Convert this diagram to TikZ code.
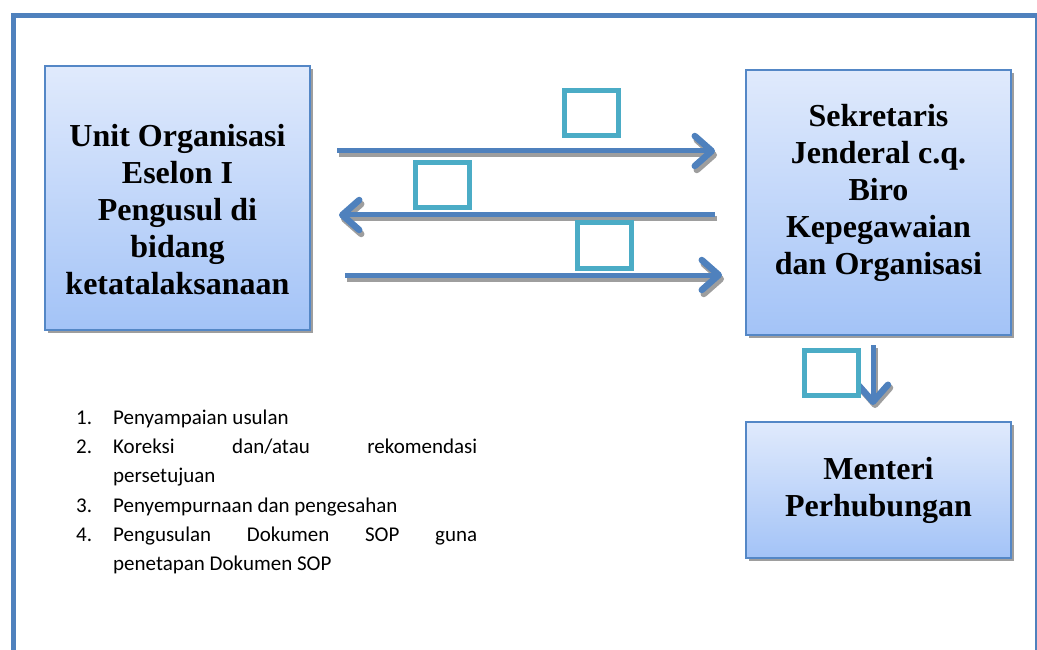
\documentclass[tikz,border=0pt]{standalone}
\usepackage{fontspec}
\setmainfont{Carlito}
\newfontfamily\boxfont{Liberation Serif}[BoldFont={Liberation Serif Bold}]
\usetikzlibrary{arrows.meta,shadows}
\definecolor{frameblue}{RGB}{79,129,189}
\definecolor{arrowblue}{RGB}{79,129,189}
\definecolor{sqteal}{RGB}{75,172,198}
\definecolor{boxtop}{RGB}{224,234,252}
\definecolor{boxbot}{RGB}{163,195,247}
\definecolor{boxline}{RGB}{84,135,198}
\definecolor{shadowgray}{RGB}{158,158,158}
\tikzset{
  bigbox/.style={draw=boxline, line width=2pt, top color=boxtop, bottom color=boxbot,
    inner sep=0pt,
    drop shadow={shadow xshift=3pt, shadow yshift=-3pt, fill=shadowgray, opacity=1}},
  boxtext/.style={inner sep=0pt, align=center, font=\boxfont\bfseries\fontsize{32}{37}\selectfont},
  sqbox/.style={draw=sqteal, line width=5pt, fill=white, minimum width=54pt, minimum height=45pt, inner sep=0pt},
  flowtip/.style={-{Straight Barb[round,length=17pt,width=30pt,line width=6.5pt]}},
  flowarrow/.style={draw=arrowblue, line width=5pt, flowtip},
  flowshadow/.style={draw=shadowgray, line width=5pt, flowtip},
  listtext/.style={inner sep=0pt, anchor=base west, font=\fontsize{21}{25}\selectfont},
  framepath/.style={draw=frameblue, line width=5pt}
}
\begin{document}
\begin{tikzpicture}[x=1pt,y=-1pt]
\useasboundingbox[fill=white] (0,0) rectangle (1037,650);
% outer frame
\coordinate (fbl) at (13,670);
\coordinate (ftl) at (13,15.5);
\coordinate (ftr) at (1037.5,15.5);
\coordinate (fbr) at (1037.5,670);
\draw[framepath] (fbl) -- (ftl) -- (ftr) -- (fbr);

% boxes
\node[bigbox, minimum width=265pt, minimum height=264pt] (unit) at (177.5,198) {};
\node[boxtext] (unitt) at (177.5,210) {Unit Organisasi\\Eselon I\\Pengusul di\\bidang\\ketatalaksanaan};
\node[bigbox, minimum width=265pt, minimum height=265pt] (sek) at (878.5,202.5) {};
\node[boxtext] (sekt) at (878.5,193) {Sekretaris\\Jenderal c.q.\\Biro\\Kepegawaian\\dan Organisasi};
\node[bigbox, minimum width=265pt, minimum height=136pt] (men) at (878.5,490) {};
\node[boxtext] (ment) at (878.5,490) {Menteri\\Perhubungan};

% arrow end points
\coordinate (a1s) at (337,151); \coordinate (a1e) at (715,151);
\coordinate (a2s) at (715,215); \coordinate (a2e) at (339,215);
\coordinate (a3s) at (345,275); \coordinate (a3e) at (722,275);
\coordinate (a4s) at (873,345); \coordinate (a4e) at (873,405);

% shadows of arrows
\begin{scope}[transform canvas={xshift=2pt,yshift=-4pt}]
\draw[flowshadow] (a1s) -- (a1e);
\draw[flowshadow] (a2s) -- (a2e);
\draw[flowshadow] (a3s) -- (a3e);
\end{scope}
\begin{scope}[transform canvas={xshift=2pt,yshift=-3pt}]
\draw[flowshadow] (a4s) -- (a4e);
\end{scope}
% arrows
\draw[flowarrow] (a1s) -- (a1e);
\draw[flowarrow] (a2s) -- (a2e);
\draw[flowarrow] (a3s) -- (a3e);
\draw[flowarrow] (a4s) -- (a4e);

% small squares
\node[sqbox] (q1) at (591.5,113) {};
\node[sqbox] (q2) at (442,185.5) {};
\node[sqbox] (q3) at (604,245.5) {};
\node[sqbox] (q4) at (831,372.5) {};

% list
\node[listtext] (n1) at (76,424) {1.};
\node[listtext] (l1) at (113,424) {Penyampaian usulan};
\node[listtext] (n2) at (76,453) {2.};
\node[listtext] (l2) at (113,453) {\makebox[364pt][s]{Koreksi dan/atau rekomendasi}};
\node[listtext] (l2b) at (113,482) {persetujuan};
\node[listtext] (n3) at (76,512) {3.};
\node[listtext] (l3) at (113,512) {Penyempurnaan dan pengesahan};
\node[listtext] (n4) at (76,541) {4.};
\node[listtext] (l4) at (113,541) {\makebox[364pt][s]{Pengusulan Dokumen SOP guna}};
\node[listtext] (l4b) at (113,570) {penetapan Dokumen SOP};
\end{tikzpicture}
\end{document}
